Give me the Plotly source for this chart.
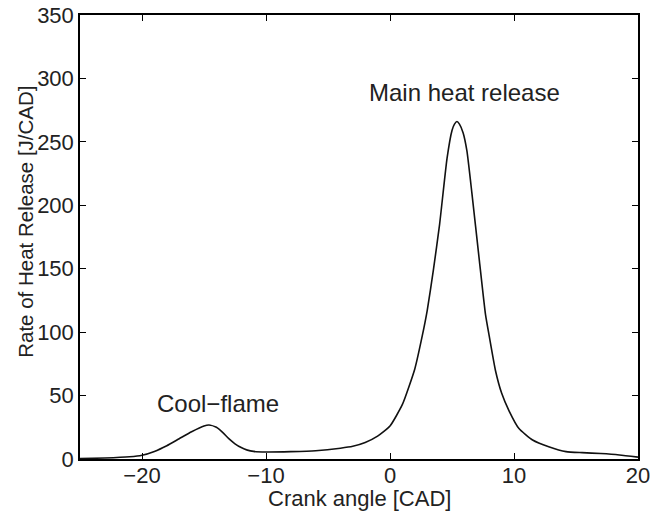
import plotly.graph_objects as go

crank_angle = [-25, -23, -21, -20, -19, -18, -17, -16, -15, -14.6, -14, -13.5, -13, -12.5,
               -12, -11.5, -11, -10, -8, -6, -4, -3, -2, -1, 0, 1, 2, 2.6, 3, 3.5, 4, 4.6,
               5.0, 5.2, 5.4, 5.6, 5.9, 6.2, 6.6, 7.2, 7.7, 8.0, 8.5, 9.0, 9.6, 10.4,
               11.5, 12.8, 14.2, 15.5, 17, 18.5, 20]
rohr = [0.3, 0.8, 1.8, 3, 6, 10.5, 16, 21.5, 26, 26.8, 25, 21, 16, 12,
        9, 7, 6, 5.5, 5.8, 6.5, 8.5, 10, 13, 18, 26, 43, 71, 97, 117, 149, 185, 237,
        259, 264, 266, 264, 257, 243, 210, 157, 114, 97, 70, 52, 38, 24,
        15, 9.7, 5.8, 5, 4.3, 3.2, 1.5]

x_ticks = [-20, -10, 0, 10, 20]
y_ticks = [0, 50, 100, 150, 200, 250, 300, 350]

font = "Liberation Sans, Arial, sans-serif"
txt = "#222"

fig = go.Figure()
fig.add_trace(go.Scatter(x=crank_angle, y=rohr, mode="lines",
                         line=dict(color="#111", width=1.6, shape="spline", smoothing=0.5),
                         showlegend=False))

fig.add_annotation(x=-13.9, y=44, text="Cool\u2212flame", showarrow=False,
                   font=dict(family=font, size=24, color=txt))
fig.add_annotation(x=5.97, y=289, text="Main heat release", showarrow=False,
                   font=dict(family=font, size=24, color=txt))
fig.add_annotation(x=0.5, xref="paper", y=0, yref="paper", yanchor="middle", yshift=-39,
                   text="Crank angle [CAD]", showarrow=False,
                   font=dict(family=font, size=22, color=txt))
fig.add_annotation(x=0, xref="paper", xanchor="center", xshift=-54, y=187, yref="y",
                   yanchor="middle", textangle=-90,
                   text="Rate of Heat Release [J/CAD]", showarrow=False,
                   font=dict(family=font, size=20.5, color=txt))

axis_common = dict(showgrid=False, zeroline=False, showline=True, linecolor="black",
                   linewidth=1.5, mirror="ticks", ticks="inside", ticklen=6,
                   tickcolor="black", tickwidth=1, automargin=False,
                   tickfont=dict(family=font, size=22, color=txt))

fig.update_xaxes(range=[-25, 20], tickvals=x_ticks,
                 ticktext=[str(v).replace("-", "\u2212") for v in x_ticks],
                 ticklabelstandoff=-4,
                 **axis_common)
fig.update_yaxes(range=[0, 350], tickvals=y_ticks, **axis_common)

fig.update_layout(width=651, height=513, margin=dict(l=80, r=13, t=15, b=54),
                  plot_bgcolor="white", paper_bgcolor="white")

fig.write_html("out.html")
